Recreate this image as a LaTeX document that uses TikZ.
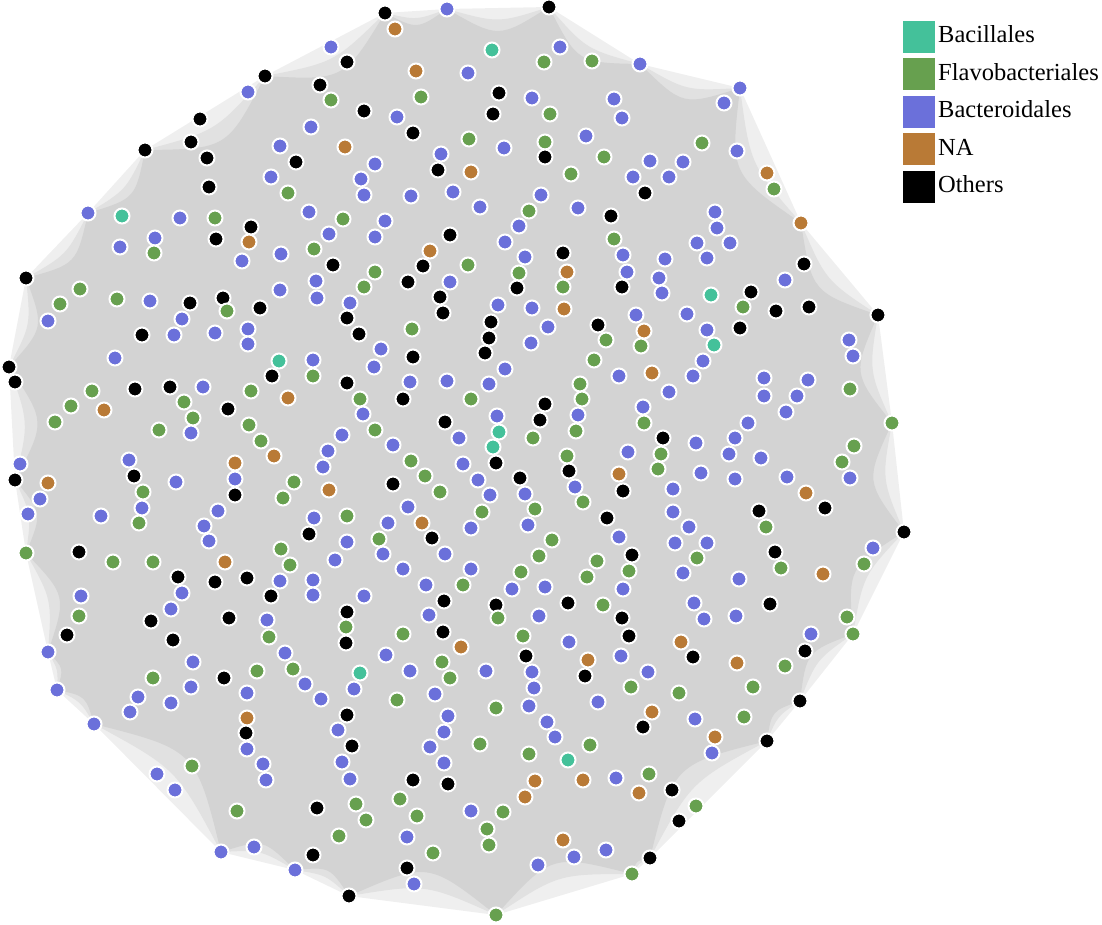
\documentclass[tikz,border=0pt]{standalone}
\usepackage{fontspec}
\setmainfont{Liberation Serif}
\usetikzlibrary{calc}
\definecolor{cT}{RGB}{68,193,154}
\definecolor{cG}{RGB}{103,160,79}
\definecolor{cB}{RGB}{107,112,218}
\definecolor{cN}{RGB}{185,122,54}
\definecolor{cK}{RGB}{0,0,0}
\definecolor{bgA}{RGB}{239,239,239}
\definecolor{bgB}{RGB}{225,225,225}
\definecolor{bgC}{RGB}{211,211,211}
\begin{document}
\begin{tikzpicture}[x=1pt,y=-1pt,
  dot/.style={circle, draw=white, line width=2pt, minimum size=15pt, inner sep=0pt},
  legsq/.style={rectangle, minimum size=32pt, inner sep=0pt},
  legtxt/.style={inner sep=0pt, font=\fontsize{24.5}{28}\selectfont, anchor=base west}]
\useasboundingbox (0,0) rectangle (1102,925);
% hull of the network (edge cloud)
\foreach \n/\x/\y in {1/385/13,2/447/9,3/549/7,4/640/64,5/740/88,6/801/223,7/878/315,8/892/423,9/904/532,10/853/634,11/800/701,12/767/741,13/650/858,14/632/874,15/496/915,16/349/896,17/295/870,18/221/852,19/94/724,20/57/690,21/48/652,22/26/553,23/15/480,24/9/367,25/26/278,26/88/213,27/145/150,28/265/76}
  \coordinate (h\n) at (\x,\y);
\def\hullpairs{1/2,2/3,3/4,4/5,5/6,6/7,7/8,8/9,9/10,10/11,11/12,12/13,13/14,14/15,15/16,16/17,17/18,18/19,19/20,20/21,21/22,22/23,23/24,24/25,25/26,26/27,27/28,28/1}
\fill[bgA] (h1) foreach \a/\b in \hullpairs { -- (h\b) } -- cycle;
\fill[bgB] (h1) foreach \a/\b in \hullpairs { .. controls ($(h\a)!.5!(h\b)!.3!-90:(h\b)$) .. (h\b) } -- cycle;
\fill[bgC] (h1) foreach \a/\b in \hullpairs { .. controls ($(h\a)!.5!(h\b)!.6!-90:(h\b)$) .. (h\b) } -- cycle;
% network nodes
\foreach \x/\y/\cl [count=\i] in {
265/76/K, 248/92/B, 200/119/K, 191/142/K, 145/150/K, 207/158/K, 209/187/K, 296/162/K, 280/146/B, 271/177/B, 288/193/G, 88/213/B, 122/216/T, 180/218/B, 215/218/G, 251/227/K, 216/239/K, 249/242/N, 155/238/B, 120/247/B, 154/253/G, 242/261/B, 281/254/B, 26/278/K, 80/289/G, 60/304/G, 117/299/G, 150/301/B, 190/303/K, 223/298/K, 280/290/B, 260/308/K, 227/311/G,
385/13/K, 447/9/B, 549/7/K, 395/29/N, 331/47/B, 347/62/K, 492/50/T, 560/47/B, 544/62/G, 592/61/G, 416/71/N, 468/73/B, 320/85/K, 331/100/G, 421/97/G, 499/93/K, 532/98/B, 493/114/K, 550/114/G, 364/111/K, 397/117/B, 311/127/B, 413/133/K, 469/139/G, 504/148/B, 545/142/G, 545/157/K, 586/136/B, 604/157/G, 345/147/N, 441/154/B, 375/164/B, 438/170/K, 471/172/N, 571/174/G, 361/179/B, 364/195/B, 411/196/B, 453/192/B, 480/207/B, 541/195/B, 529/211/G, 578/208/B, 309/212/B, 343/219/G, 385/221/B, 329/234/B, 375/237/B, 450/235/K, 519/226/B, 505/242/B, 314/249/G, 430/251/N, 525/257/B, 563/253/K, 567/272/N, 333/265/K, 375/272/G, 423/266/K, 468/265/G, 519/273/G, 316/281/B, 364/287/G, 408/282/K, 450/282/B, 517/288/K, 563/287/G, 317/298/B, 350/303/B, 440/297/K, 498/305/B, 532/308/B, 564/309/N,
640/64/B, 614/99/B, 622/118/B, 740/88/B, 724/103/B, 702/143/G, 737/151/B, 650/161/B, 683/162/B, 633/177/B, 669/177/B, 645/193/K, 767/173/N, 774/189/G, 801/223/N, 611/216/K, 614/239/G, 623/255/B, 627/272/B, 622/287/K, 665/259/B, 659/278/B, 662/293/B, 715/212/B, 717/228/B, 697/243/B, 730/243/B, 707/258/B, 711/295/T, 751/292/K, 804/264/K, 785/280/B, 743/307/G, 776/311/K, 809/307/K, 878/315/K,
48/321/B, 142/335/K, 174/335/B, 182/319/B, 215/333/B, 248/329/B, 248/344/B, 279/361/T, 272/376/K, 288/398/N, 115/358/B, 9/367/K, 15/382/K, 92/391/G, 71/406/G, 104/410/N, 55/422/G, 135/389/K, 170/387/K, 203/387/B, 184/402/G, 193/418/G, 191/433/B, 159/430/G, 228/409/K, 251/391/G, 249/425/G, 261/441/G, 274/456/N, 20/464/B, 15/480/K, 48/483/N, 40/499/B, 28/514/B, 129/460/B, 134/476/K, 143/492/G, 142/508/B, 139/523/G, 176/482/B, 101/516/B, 235/463/N, 235/479/B, 235/495/K, 294/482/G, 283/498/G, 218/511/B, 204/526/B, 209/541/B, 26/553/G, 79/552/K, 113/562/G, 153/562/G, 225/562/N, 281/549/G, 290/565/G, 178/577/K, 182/593/B, 171/609/B, 215/582/K, 247/578/K, 280/581/B, 271/596/K, 81/596/B, 79/616/G, 151/621/K, 229/618/K, 267/620/B,
347/318/K, 359/334/K, 443/313/K, 491/322/K, 489/338/K, 485/353/K, 412/329/G, 381/349/B, 374/367/B, 413/357/K, 313/360/B, 313/376/G, 347/383/K, 410/382/B, 447/381/B, 403/399/K, 360/399/G, 363/414/B, 375/430/G, 342/435/B, 328/451/B, 323/467/B, 393/445/B, 445/422/K, 459/438/B, 411/461/G, 425/476/G, 440/492/G, 393/484/K, 329/490/N, 548/327/B, 531/343/B, 505/369/B, 489/384/B, 471/399/G, 497/416/B, 499/432/T, 493/447/T, 496/463/K, 463/464/B, 478/480/B, 490/495/B, 482/512/G, 471/528/B, 598/325/K, 606/340/G, 594/360/G, 580/384/G, 582/399/G, 578/415/B, 576/431/G, 545/404/K, 540/420/K, 533/438/G, 567/456/G, 569/471/K, 575/487/B, 583/502/G, 520/478/K, 525/494/B, 535/509/G, 528/525/B, 607/518/K, 314/518/B, 309/534/K, 347/516/G, 347/542/B, 335/560/B, 313/580/B, 313/595/B, 347/612/K, 364/596/B, 388/523/B, 379/539/G, 383/554/B, 408/507/B, 422/523/N, 432/538/K, 445/554/B, 403/569/B, 426/585/B, 429/615/B, 444/601/K, 471/569/B, 463/585/G, 552/540/G, 539/556/G, 521/572/G, 512/589/B, 545/587/B, 496/605/K, 498/618/G, 539/616/B, 597/561/G, 587/577/G, 568/603/K, 603/605/G,
636/315/B, 687/314/B, 644/331/N, 641/346/G, 707/330/B, 714/345/T, 740/328/K, 703/361/B, 693/376/B, 619/376/B, 652/373/N, 669/392/B, 849/340/B, 853/356/B, 850/389/G, 892/423/G, 764/378/B, 764/396/B, 808/380/B, 797/396/B, 786/412/B, 748/423/B, 735/438/B, 729/454/B, 761/458/B, 643/407/B, 644/423/G, 663/438/K, 661/454/G, 658/469/G, 628/452/B, 696/443/B, 701/473/B, 735/479/B, 787/477/B, 854/446/G, 842/462/G, 850/478/B, 619/474/N, 623/491/K, 806/493/N, 825/508/K, 673/489/B, 673/512/B, 689/527/B, 675/543/B, 707/543/B, 759/511/K, 766/527/G, 904/532/K, 873/548/B, 864/564/G, 619/537/B, 632/555/K, 629/571/G, 697/558/G, 683/573/B, 739/579/B, 775/552/K, 781/568/G, 823/574/N, 623/589/B, 694/603/B, 770/604/K, 622/618/K, 704/619/B, 736/616/B, 847/617/G,
67/635/K, 48/652/B, 173/640/K, 269/637/G, 285/653/B, 293/669/G, 305/684/B, 193/662/B, 153/678/G, 191/687/B, 224/678/K, 257/671/G, 247/693/B, 138/697/B, 130/712/B, 171/703/B, 57/690/B, 94/724/B, 247/718/N, 246/733/K, 247/749/B, 263/764/B, 266/780/B, 192/766/G, 157/774/B, 175/790/B, 237/811/G, 221/852/B, 254/847/B, 295/870/B,
346/627/G, 346/643/K, 403/634/G, 443/632/K, 461/647/N, 523/636/G, 569/642/B, 386/655/B, 360/673/T, 354/689/B, 321/699/B, 410/671/B, 442/662/G, 450/678/G, 486/671/B, 435/694/B, 397/700/G, 526/656/K, 532/672/B, 534/688/B, 529/706/B, 496/708/G, 588/660/N, 585/676/K, 598/702/B, 347/715/K, 448/716/B, 444/732/B, 338/730/B, 352/746/K, 430/747/B, 342/762/B, 444/763/B, 480/744/G, 547/722/B, 555/737/B, 529/754/G, 590/745/G, 568/760/T, 535/781/N, 525/797/N, 583/780/N, 350/779/B, 413/780/K, 448/784/K, 317/808/K, 356/804/G, 366/820/G, 400/799/G, 417/816/G, 339/836/G, 407/837/B, 433/853/G, 313/855/K, 407/868/K, 414/884/B, 349/896/K, 471/811/B, 503/812/G, 487/829/G, 489/845/G, 496/915/G, 538/865/B, 574/857/B, 563/840/N, 606/850/B,
853/634/G, 811/634/B, 805/651/K, 629/636/K, 621/656/B, 681/642/N, 693/657/K, 737/663/N, 785/666/G, 648/672/B, 631/687/G, 679/693/G, 753/687/G, 652/712/N, 643/727/K, 695/719/B, 744/717/G, 800/701/K, 715/737/N, 712/753/B, 767/741/K, 616/778/B, 649/774/G, 639/793/N, 672/790/K, 696/806/G, 679/821/K, 650/858/K, 632/874/G}
  \node[dot, fill=c\cl] (n\i) at (\x,\y) {};
% legend
\foreach \cl/\t [count=\j from 0] in {T/Bacillales, G/Flavobacteriales, B/Bacteroidales, N/NA, K/Others} {
  \node[legsq, fill=c\cl] (sq\cl) at (919, {37+37.4*\j}) {};
  \node[legtxt] (lt\cl) at (938, {43+37.4*\j}) {\t};
}
\end{tikzpicture}
\end{document}
